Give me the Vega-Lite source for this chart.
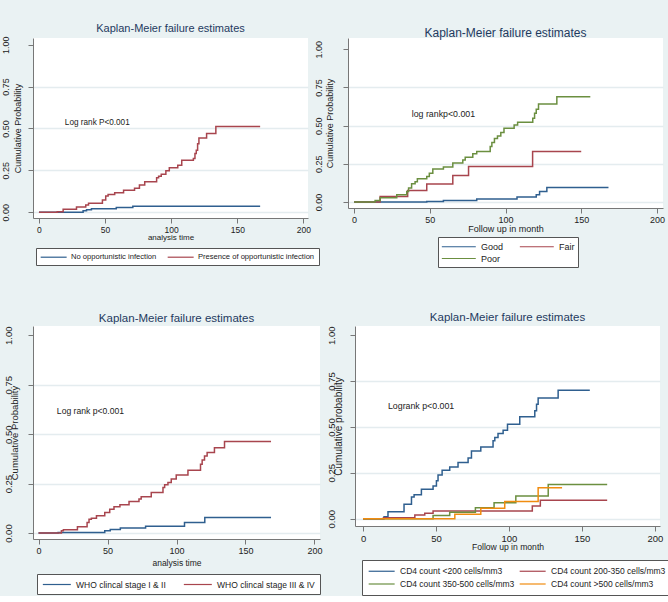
{
  "$schema": "https://vega.github.io/schema/vega-lite/v6.json",
  "background": "#eaf2f3",
  "padding": {"left": 0, "top": 22, "right": 0, "bottom": 0},
  "config": {
    "font": "Liberation Sans, Arial, sans-serif",
    "view": {"fill": "white", "stroke": null},
    "axis": {"domainColor": "#777777", "tickColor": "#777777", "labelColor": "#222222", "titleColor": "#222222", "titleFontWeight": "normal", "gridColor": "#e4ecef", "gridWidth": 1.5, "tickSize": 5},
    "legend": {"symbolType": "M-1,0H5", "symbolStrokeWidth": 1.2, "fillColor": "white", "strokeColor": "#555555", "labelColor": "#222222", "orient": "none"},
    "title": {"fontWeight": "normal", "color": "#1f3a5f", "offset": 2}
  },
  "resolve": {"scale": {"color": "independent"}, "legend": {"color": "independent"}},
  "datasets": {
    "p1": [
      {"t": 0, "p": 0, "g": "No opportunistic infection"},
      {"t": 33.4, "p": 0.008, "g": "No opportunistic infection"},
      {"t": 36, "p": 0.014, "g": "No opportunistic infection"},
      {"t": 39.7, "p": 0.02, "g": "No opportunistic infection"},
      {"t": 58.5, "p": 0.027, "g": "No opportunistic infection"},
      {"t": 71, "p": 0.035, "g": "No opportunistic infection"},
      {"t": 167.3, "p": 0.035, "g": "No opportunistic infection"},
      {"t": 0, "p": 0, "g": "Presence of opportunistic infection"},
      {"t": 13.8, "p": 0.003, "g": "Presence of opportunistic infection"},
      {"t": 18.3, "p": 0.018, "g": "Presence of opportunistic infection"},
      {"t": 28.4, "p": 0.03, "g": "Presence of opportunistic infection"},
      {"t": 35.4, "p": 0.043, "g": "Presence of opportunistic infection"},
      {"t": 37.5, "p": 0.053, "g": "Presence of opportunistic infection"},
      {"t": 48, "p": 0.073, "g": "Presence of opportunistic infection"},
      {"t": 50.5, "p": 0.097, "g": "Presence of opportunistic infection"},
      {"t": 52.3, "p": 0.105, "g": "Presence of opportunistic infection"},
      {"t": 57.3, "p": 0.116, "g": "Presence of opportunistic infection"},
      {"t": 64, "p": 0.13, "g": "Presence of opportunistic infection"},
      {"t": 72.3, "p": 0.143, "g": "Presence of opportunistic infection"},
      {"t": 76, "p": 0.162, "g": "Presence of opportunistic infection"},
      {"t": 80, "p": 0.182, "g": "Presence of opportunistic infection"},
      {"t": 89, "p": 0.205, "g": "Presence of opportunistic infection"},
      {"t": 90.5, "p": 0.215, "g": "Presence of opportunistic infection"},
      {"t": 92.5, "p": 0.227, "g": "Presence of opportunistic infection"},
      {"t": 96, "p": 0.247, "g": "Presence of opportunistic infection"},
      {"t": 98.6, "p": 0.265, "g": "Presence of opportunistic infection"},
      {"t": 105, "p": 0.28, "g": "Presence of opportunistic infection"},
      {"t": 108, "p": 0.31, "g": "Presence of opportunistic infection"},
      {"t": 116.8, "p": 0.32, "g": "Presence of opportunistic infection"},
      {"t": 118, "p": 0.35, "g": "Presence of opportunistic infection"},
      {"t": 119, "p": 0.37, "g": "Presence of opportunistic infection"},
      {"t": 120, "p": 0.409, "g": "Presence of opportunistic infection"},
      {"t": 121, "p": 0.443, "g": "Presence of opportunistic infection"},
      {"t": 126.8, "p": 0.469, "g": "Presence of opportunistic infection"},
      {"t": 133.8, "p": 0.512, "g": "Presence of opportunistic infection"},
      {"t": 167.3, "p": 0.512, "g": "Presence of opportunistic infection"}
    ],
    "p2": [
      {"t": 0, "p": 0, "g": "Good"},
      {"t": 48, "p": 0.004, "g": "Good"},
      {"t": 59, "p": 0.01, "g": "Good"},
      {"t": 81, "p": 0.02, "g": "Good"},
      {"t": 107.6, "p": 0.033, "g": "Good"},
      {"t": 120.3, "p": 0.048, "g": "Good"},
      {"t": 122.5, "p": 0.069, "g": "Good"},
      {"t": 127.3, "p": 0.096, "g": "Good"},
      {"t": 168, "p": 0.096, "g": "Good"},
      {"t": 0, "p": 0, "g": "Fair"},
      {"t": 17.2, "p": 0.037, "g": "Fair"},
      {"t": 35.4, "p": 0.076, "g": "Fair"},
      {"t": 48, "p": 0.118, "g": "Fair"},
      {"t": 65.2, "p": 0.174, "g": "Fair"},
      {"t": 75.6, "p": 0.233, "g": "Fair"},
      {"t": 117.9, "p": 0.331, "g": "Fair"},
      {"t": 150, "p": 0.331, "g": "Fair"},
      {"t": 0, "p": 0, "g": "Poor"},
      {"t": 13.9, "p": 0.01, "g": "Poor"},
      {"t": 17.2, "p": 0.028, "g": "Poor"},
      {"t": 28.2, "p": 0.048, "g": "Poor"},
      {"t": 34.8, "p": 0.069, "g": "Poor"},
      {"t": 36, "p": 0.092, "g": "Poor"},
      {"t": 38, "p": 0.12, "g": "Poor"},
      {"t": 40.3, "p": 0.133, "g": "Poor"},
      {"t": 41.8, "p": 0.152, "g": "Poor"},
      {"t": 48, "p": 0.167, "g": "Poor"},
      {"t": 49.7, "p": 0.189, "g": "Poor"},
      {"t": 52, "p": 0.216, "g": "Poor"},
      {"t": 59, "p": 0.229, "g": "Poor"},
      {"t": 65.2, "p": 0.255, "g": "Poor"},
      {"t": 71.8, "p": 0.276, "g": "Poor"},
      {"t": 73.4, "p": 0.294, "g": "Poor"},
      {"t": 78.4, "p": 0.316, "g": "Poor"},
      {"t": 81, "p": 0.331, "g": "Poor"},
      {"t": 89.9, "p": 0.364, "g": "Poor"},
      {"t": 91, "p": 0.39, "g": "Poor"},
      {"t": 92.7, "p": 0.416, "g": "Poor"},
      {"t": 94.7, "p": 0.433, "g": "Poor"},
      {"t": 96.9, "p": 0.455, "g": "Poor"},
      {"t": 99, "p": 0.483, "g": "Poor"},
      {"t": 105.7, "p": 0.505, "g": "Poor"},
      {"t": 108, "p": 0.523, "g": "Poor"},
      {"t": 118, "p": 0.549, "g": "Poor"},
      {"t": 119.2, "p": 0.582, "g": "Poor"},
      {"t": 120.3, "p": 0.608, "g": "Poor"},
      {"t": 121.8, "p": 0.642, "g": "Poor"},
      {"t": 133.9, "p": 0.69, "g": "Poor"},
      {"t": 156, "p": 0.69, "g": "Poor"}
    ],
    "p3": [
      {"t": 0, "p": 0, "g": "WHO clincal stage I & II"},
      {"t": 14.2, "p": 0.003, "g": "WHO clincal stage I & II"},
      {"t": 48, "p": 0.012, "g": "WHO clincal stage I & II"},
      {"t": 52, "p": 0.018, "g": "WHO clincal stage I & II"},
      {"t": 59.3, "p": 0.025, "g": "WHO clincal stage I & II"},
      {"t": 77.6, "p": 0.034, "g": "WHO clincal stage I & II"},
      {"t": 105.8, "p": 0.054, "g": "WHO clincal stage I & II"},
      {"t": 120.5, "p": 0.079, "g": "WHO clincal stage I & II"},
      {"t": 168.5, "p": 0.079, "g": "WHO clincal stage I & II"},
      {"t": 0, "p": 0, "g": "WHO clincal stage III & IV"},
      {"t": 16.6, "p": 0.012, "g": "WHO clincal stage III & IV"},
      {"t": 18, "p": 0.017, "g": "WHO clincal stage III & IV"},
      {"t": 28.2, "p": 0.032, "g": "WHO clincal stage III & IV"},
      {"t": 35.2, "p": 0.054, "g": "WHO clincal stage III & IV"},
      {"t": 36.6, "p": 0.07, "g": "WHO clincal stage III & IV"},
      {"t": 38.3, "p": 0.075, "g": "WHO clincal stage III & IV"},
      {"t": 42, "p": 0.087, "g": "WHO clincal stage III & IV"},
      {"t": 48, "p": 0.104, "g": "WHO clincal stage III & IV"},
      {"t": 51.6, "p": 0.121, "g": "WHO clincal stage III & IV"},
      {"t": 54.7, "p": 0.133, "g": "WHO clincal stage III & IV"},
      {"t": 59, "p": 0.143, "g": "WHO clincal stage III & IV"},
      {"t": 65.6, "p": 0.16, "g": "WHO clincal stage III & IV"},
      {"t": 72.8, "p": 0.172, "g": "WHO clincal stage III & IV"},
      {"t": 74.4, "p": 0.184, "g": "WHO clincal stage III & IV"},
      {"t": 81.7, "p": 0.205, "g": "WHO clincal stage III & IV"},
      {"t": 90.2, "p": 0.23, "g": "WHO clincal stage III & IV"},
      {"t": 91.4, "p": 0.244, "g": "WHO clincal stage III & IV"},
      {"t": 93.8, "p": 0.256, "g": "WHO clincal stage III & IV"},
      {"t": 96.2, "p": 0.273, "g": "WHO clincal stage III & IV"},
      {"t": 99.8, "p": 0.294, "g": "WHO clincal stage III & IV"},
      {"t": 108.3, "p": 0.318, "g": "WHO clincal stage III & IV"},
      {"t": 117.4, "p": 0.348, "g": "WHO clincal stage III & IV"},
      {"t": 118.6, "p": 0.369, "g": "WHO clincal stage III & IV"},
      {"t": 120.3, "p": 0.39, "g": "WHO clincal stage III & IV"},
      {"t": 122.2, "p": 0.407, "g": "WHO clincal stage III & IV"},
      {"t": 127.5, "p": 0.432, "g": "WHO clincal stage III & IV"},
      {"t": 134.8, "p": 0.463, "g": "WHO clincal stage III & IV"},
      {"t": 168.5, "p": 0.463, "g": "WHO clincal stage III & IV"}
    ],
    "p4": [
      {"t": 0, "p": 0, "g": "CD4 count <200 cells/mm3"},
      {"t": 14.4, "p": 0.01, "g": "CD4 count <200 cells/mm3"},
      {"t": 17.1, "p": 0.038, "g": "CD4 count <200 cells/mm3"},
      {"t": 28.1, "p": 0.078, "g": "CD4 count <200 cells/mm3"},
      {"t": 33.2, "p": 0.118, "g": "CD4 count <200 cells/mm3"},
      {"t": 35, "p": 0.13, "g": "CD4 count <200 cells/mm3"},
      {"t": 40, "p": 0.16, "g": "CD4 count <200 cells/mm3"},
      {"t": 48, "p": 0.178, "g": "CD4 count <200 cells/mm3"},
      {"t": 50.3, "p": 0.206, "g": "CD4 count <200 cells/mm3"},
      {"t": 51.4, "p": 0.238, "g": "CD4 count <200 cells/mm3"},
      {"t": 54.2, "p": 0.264, "g": "CD4 count <200 cells/mm3"},
      {"t": 59.4, "p": 0.282, "g": "CD4 count <200 cells/mm3"},
      {"t": 65.1, "p": 0.306, "g": "CD4 count <200 cells/mm3"},
      {"t": 72, "p": 0.33, "g": "CD4 count <200 cells/mm3"},
      {"t": 74.3, "p": 0.369, "g": "CD4 count <200 cells/mm3"},
      {"t": 80.7, "p": 0.391, "g": "CD4 count <200 cells/mm3"},
      {"t": 89.1, "p": 0.424, "g": "CD4 count <200 cells/mm3"},
      {"t": 90.3, "p": 0.442, "g": "CD4 count <200 cells/mm3"},
      {"t": 92.5, "p": 0.464, "g": "CD4 count <200 cells/mm3"},
      {"t": 96, "p": 0.482, "g": "CD4 count <200 cells/mm3"},
      {"t": 99, "p": 0.515, "g": "CD4 count <200 cells/mm3"},
      {"t": 107.4, "p": 0.555, "g": "CD4 count <200 cells/mm3"},
      {"t": 117.7, "p": 0.588, "g": "CD4 count <200 cells/mm3"},
      {"t": 118.9, "p": 0.624, "g": "CD4 count <200 cells/mm3"},
      {"t": 120, "p": 0.657, "g": "CD4 count <200 cells/mm3"},
      {"t": 133.7, "p": 0.7, "g": "CD4 count <200 cells/mm3"},
      {"t": 155.4, "p": 0.7, "g": "CD4 count <200 cells/mm3"},
      {"t": 0, "p": 0, "g": "CD4 count 200-350 cells/mm3"},
      {"t": 14, "p": 0.005, "g": "CD4 count 200-350 cells/mm3"},
      {"t": 35.5, "p": 0.02, "g": "CD4 count 200-350 cells/mm3"},
      {"t": 42.3, "p": 0.03, "g": "CD4 count 200-350 cells/mm3"},
      {"t": 48, "p": 0.042, "g": "CD4 count 200-350 cells/mm3"},
      {"t": 116, "p": 0.069, "g": "CD4 count 200-350 cells/mm3"},
      {"t": 121.5, "p": 0.1, "g": "CD4 count 200-350 cells/mm3"},
      {"t": 167.3, "p": 0.1, "g": "CD4 count 200-350 cells/mm3"},
      {"t": 0, "p": 0, "g": "CD4 count 350-500 cells/mm3"},
      {"t": 48, "p": 0.017, "g": "CD4 count 350-500 cells/mm3"},
      {"t": 59.4, "p": 0.035, "g": "CD4 count 350-500 cells/mm3"},
      {"t": 77, "p": 0.06, "g": "CD4 count 350-500 cells/mm3"},
      {"t": 89.8, "p": 0.087, "g": "CD4 count 350-500 cells/mm3"},
      {"t": 104.7, "p": 0.124, "g": "CD4 count 350-500 cells/mm3"},
      {"t": 126.9, "p": 0.186, "g": "CD4 count 350-500 cells/mm3"},
      {"t": 167.3, "p": 0.186, "g": "CD4 count 350-500 cells/mm3"},
      {"t": 0, "p": 0, "g": "CD4 count >500 cells/mm3"},
      {"t": 62.9, "p": 0.024, "g": "CD4 count >500 cells/mm3"},
      {"t": 80.7, "p": 0.057, "g": "CD4 count >500 cells/mm3"},
      {"t": 97.1, "p": 0.093, "g": "CD4 count >500 cells/mm3"},
      {"t": 120, "p": 0.169, "g": "CD4 count >500 cells/mm3"},
      {"t": 136.4, "p": 0.169, "g": "CD4 count >500 cells/mm3"}
    ],
    "a1": [{"t": 19.6, "p": 0.534, "label": "Log rank P<0.001"}],
    "a2": [{"t": 38.1, "p": 0.577, "label": "log rankp<0.001"}],
    "a3": [{"t": 13.3, "p": 0.618, "label": "Log rank p<0.001"}],
    "a4": [{"t": 17.1, "p": 0.615, "label": "Logrank p<0.001"}]
  },
  "vconcat": [
    {
      "spacing": 40,
      "bounds": "flush",
      "resolve": {"scale": {"color": "independent"}, "legend": {"color": "independent"}},
      "hconcat": [
        {
          "width": 275, "height": 180,
          "title": {"text": "Kaplan-Meier failure estimates", "fontSize": 11},
          "layer": [
            {
              "data": {"name": "p1"},
              "mark": {"type": "line", "interpolate": "step-after", "strokeWidth": 1.5},
              "encoding": {
                "x": {"field": "t", "type": "quantitative", "scale": {"domain": [-4.5, 203.5], "nice": false, "zero": false},
                  "axis": {"values": [0, 50, 100, 150, 200], "grid": false, "title": "analysis time", "labelFontSize": 8.5, "titleFontSize": 8, "labelPadding": 2, "titlePadding": 0}},
                "y": {"field": "p", "type": "quantitative", "scale": {"domain": [-0.035, 1.04], "nice": false, "zero": false},
                  "axis": {"values": [0, 0.25, 0.5, 0.75, 1], "format": ".2f", "title": "Cumulative Probability", "labelAngle": -90, "labelAlign": "center", "labelBaseline": "bottom", "labelPadding": 18, "labelFontSize": 9, "titleFontSize": 9, "titleX": -11, "titleBaseline": "bottom",
                    "gridOpacity": {"condition": {"test": "datum.value === 1", "value": 0}, "value": 1}}},
                "color": {"field": "g", "type": "nominal", "title": null,
                  "scale": {"domain": ["No opportunistic infection", "Presence of opportunistic infection"], "range": ["#2f5f8f", "#a8454e"]},
                  "legend": {"legendX": 3, "legendY": 210, "direction": "horizontal", "columns": 2, "symbolSize": 75, "labelFontSize": 7.6, "columnPadding": 8, "padding": 4, "labelOffset": 21}}
              }
            },
            {
              "data": {"name": "a1"},
              "mark": {"type": "text", "align": "left", "baseline": "middle", "fontSize": 8.2, "color": "#222222"},
              "encoding": {"x": {"field": "t", "type": "quantitative"}, "y": {"field": "p", "type": "quantitative"}, "text": {"field": "label"}}
            }
          ]
        },
        {
          "width": 315, "height": 170,
          "title": {"text": "Kaplan-Meier failure estimates", "fontSize": 12, "dy": 4},
          "layer": [
            {
              "data": {"name": "p2"},
              "mark": {"type": "line", "interpolate": "step-after", "strokeWidth": 1.5},
              "encoding": {
                "x": {"field": "t", "type": "quantitative", "scale": {"domain": [-4, 204], "nice": false, "zero": false},
                  "axis": {"values": [0, 50, 100, 150, 200], "grid": false, "title": "Follow up in month", "labelFontSize": 9, "titleFontSize": 9, "labelPadding": 2, "titlePadding": 0}},
                "y": {"field": "p", "type": "quantitative", "scale": {"domain": [-0.039, 1.074], "nice": false, "zero": false},
                  "axis": {"values": [0, 0.25, 0.5, 0.75, 1], "format": ".2f", "title": "Cumulative Probability", "labelAngle": -90, "labelAlign": "center", "labelBaseline": "bottom", "labelPadding": 20, "labelFontSize": 9, "titleFontSize": 9, "titleX": -14, "titleBaseline": "bottom",
                    "gridOpacity": {"condition": {"test": "datum.value === 1", "value": 0}, "value": 1}}},
                "color": {"field": "g", "type": "nominal", "title": null,
                  "scale": {"domain": ["Good", "Fair", "Poor"], "range": ["#2f5f8f", "#a8454e", "#6b8f40"]},
                  "legend": {"legendX": 90, "legendY": 199, "direction": "horizontal", "columns": 2, "symbolSize": 128, "labelFontSize": 9, "columnPadding": 13, "padding": 3, "labelOffset": 27, "rowPadding": 0}}
              }
            },
            {
              "data": {"name": "a2"},
              "mark": {"type": "text", "align": "left", "baseline": "middle", "fontSize": 8.8, "color": "#222222"},
              "encoding": {"x": {"field": "t", "type": "quantitative"}, "y": {"field": "p", "type": "quantitative"}, "text": {"field": "label"}}
            }
          ]
        }
      ]
    },
    {
      "spacing": 35,
      "bounds": "flush",
      "resolve": {"scale": {"color": "independent"}, "legend": {"color": "independent"}},
      "hconcat": [
        {
          "width": 287, "height": 213,
          "title": {"text": "Kaplan-Meier failure estimates", "fontSize": 11.5},
          "layer": [
            {
              "data": {"name": "p3"},
              "mark": {"type": "line", "interpolate": "step-after", "strokeWidth": 1.5},
              "encoding": {
                "x": {"field": "t", "type": "quantitative", "scale": {"domain": [-4, 204], "nice": false, "zero": false},
                  "axis": {"values": [0, 50, 100, 150, 200], "grid": false, "title": "analysis time", "labelFontSize": 9, "titleFontSize": 8.5, "labelPadding": 2, "titlePadding": 3}},
                "y": {"field": "p", "type": "quantitative", "scale": {"domain": [-0.03, 1.047], "nice": false, "zero": false},
                  "axis": {"values": [0, 0.25, 0.5, 0.75, 1], "format": ".2f", "title": "Cumulative Probability", "labelAngle": -90, "labelAlign": "center", "labelBaseline": "bottom", "labelPadding": 15, "labelFontSize": 9.5, "titleFontSize": 9.5, "titleX": -14, "titleBaseline": "bottom",
                    "gridOpacity": {"condition": {"test": "datum.value === 1", "value": 0}, "value": 1}}},
                "color": {"field": "g", "type": "nominal", "title": null,
                  "scale": {"domain": ["WHO clincal stage I & II", "WHO clincal stage III & IV"], "range": ["#2f5f8f", "#a8454e"]},
                  "legend": {"legendX": 4, "legendY": 248, "direction": "horizontal", "columns": 2, "symbolSize": 87, "labelFontSize": 8.5, "columnPadding": 15, "padding": 5, "labelOffset": 23}}
              }
            },
            {
              "data": {"name": "a3"},
              "mark": {"type": "text", "align": "left", "baseline": "middle", "fontSize": 8.6, "color": "#222222"},
              "encoding": {"x": {"field": "t", "type": "quantitative"}, "y": {"field": "p", "type": "quantitative"}, "text": {"field": "label"}}
            }
          ]
        },
        {
          "width": 305, "height": 200,
          "title": {"text": "Kaplan-Meier failure estimates", "fontSize": 11.5},
          "layer": [
            {
              "data": {"name": "p4"},
              "mark": {"type": "line", "interpolate": "step-after", "strokeWidth": 1.5},
              "encoding": {
                "x": {"field": "t", "type": "quantitative", "scale": {"domain": [-5.5, 203.5], "nice": false, "zero": false},
                  "axis": {"values": [0, 50, 100, 150, 200], "grid": false, "title": "Follow up in month", "labelFontSize": 9.5, "titleFontSize": 8.6, "labelPadding": 2, "titlePadding": 0}},
                "y": {"field": "p", "type": "quantitative", "scale": {"domain": [-0.04, 1.05], "nice": false, "zero": false},
                  "axis": {"values": [0, 0.25, 0.5, 0.75, 1], "format": ".2f", "title": "Cumulative probability", "labelAngle": -90, "labelAlign": "center", "labelBaseline": "bottom", "labelPadding": 14, "labelFontSize": 9.5, "titleFontSize": 10, "titleX": -12, "titleBaseline": "bottom",
                    "gridOpacity": {"condition": {"test": "datum.value === 1", "value": 0}, "value": 1}}},
                "color": {"field": "g", "type": "nominal", "title": null,
                  "scale": {"domain": ["CD4 count <200 cells/mm3", "CD4 count 200-350 cells/mm3", "CD4 count 350-500 cells/mm3", "CD4 count >500 cells/mm3"], "range": ["#2f5f8f", "#a8454e", "#6b8f40", "#f08c10"]},
                  "legend": {"legendX": 7, "legendY": 234, "direction": "horizontal", "columns": 2, "symbolSize": 75, "labelFontSize": 8.5, "columnPadding": 2, "padding": 6, "labelOffset": 22, "rowPadding": 3}}
              }
            },
            {
              "data": {"name": "a4"},
              "mark": {"type": "text", "align": "left", "baseline": "middle", "fontSize": 8.8, "color": "#222222"},
              "encoding": {"x": {"field": "t", "type": "quantitative"}, "y": {"field": "p", "type": "quantitative"}, "text": {"field": "label"}}
            }
          ]
        }
      ]
    }
  ],
  "spacing": 44
}
